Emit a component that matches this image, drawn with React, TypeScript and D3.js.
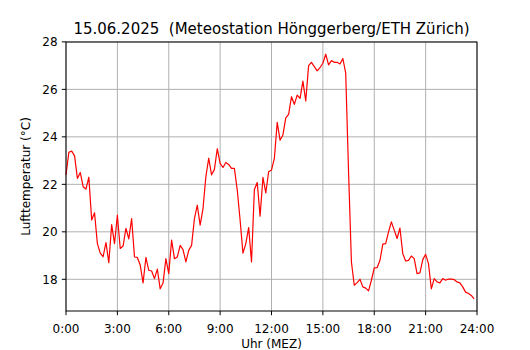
import * as d3 from "d3";

// Lufttemperatur, 10-Minuten-Werte ab 0:00
const temps = [
  22.4, 23.35, 23.4, 23.2, 22.25, 22.5, 21.9, 21.8, 22.3, 20.5,
  20.8, 19.5, 19.1, 18.95, 19.55, 18.7, 20.3, 19.5, 20.7, 19.3,
  19.4, 20.15, 19.7, 20.56, 18.94, 18.92, 18.6, 17.85, 18.92, 18.38,
  18.35, 18.03, 18.43, 17.6, 17.84, 18.87, 18.24, 19.65, 18.87, 18.94,
  19.43, 19.25, 18.73, 19.22, 19.43, 20.56, 21.12, 20.28, 20.98, 22.32,
  23.1, 22.4, 22.63, 23.5, 22.88, 22.71, 22.92, 22.84, 22.67, 22.67,
  21.76, 20.5, 19.1, 19.5, 20.18, 18.73, 21.78, 22.08, 20.66, 22.29,
  21.64, 22.53, 22.6, 23.09, 24.61, 23.86, 24.08, 24.8, 24.95, 25.69,
  25.37, 25.76, 25.62, 26.35, 25.51, 27.0, 27.14, 26.96, 26.78, 26.92,
  27.1, 27.48, 27.03, 27.21, 27.14, 27.14, 27.07, 27.3, 26.68, 22.53,
  18.73, 17.75, 17.86, 18.0, 17.68, 17.63, 17.51, 17.96, 18.48, 18.49,
  18.8, 19.48, 19.5, 20.0, 20.42, 20.07, 19.72, 20.16, 19.08, 18.77,
  18.8, 18.98, 18.87, 18.24, 18.27, 18.83, 19.05, 18.66, 17.6, 18.03,
  17.89, 17.85, 18.03, 17.96, 18.01, 18.01, 17.99, 17.89, 17.85, 17.68,
  17.46, 17.4, 17.32, 17.18,
];
const stepMinutes = 10;

const xTicks = [0, 3, 6, 9, 12, 15, 18, 21, 24];
const xTickLabels = ["0:00", "3:00", "6:00", "9:00", "12:00", "15:00", "18:00", "21:00", "24:00"];
const yTicks = [18, 20, 22, 24, 26, 28];

const title = "15.06.2025  (Meteostation Hönggerberg/ETH Zürich)";

const width = 530;
const height = 350;
const margin = { top: 42, right: 53, bottom: 39, left: 66 };
const font = "DejaVu Sans, sans-serif";

export default function App() {
  const innerW = width - margin.left - margin.right;
  const innerH = height - margin.top - margin.bottom;

  const [tMin, tMax] = d3.extent(temps) as [number, number];
  const pad = (tMax - tMin) * 0.05;

  const x = d3.scaleLinear().domain([0, 24]).range([0, innerW]);
  const y = d3.scaleLinear().domain([tMin - pad, tMax + pad]).range([innerH, 0]);

  const line = d3
    .line<number>()
    .x((_, i) => x((i * stepMinutes) / 60))
    .y((d) => y(d));

  return (
    <svg
      width={width}
      height={height}
      style={{ position: "absolute", left: 0, top: 0, background: "#fff" }}
      fontFamily={font}
    >
      <text
        x={margin.left + innerW / 2}
        y={34}
        textAnchor="middle"
        fontSize={15}
        style={{ whiteSpace: "pre" }}
      >
        {title}
      </text>
      <g transform={`translate(${margin.left},${margin.top})`}>
        {xTicks.map((t) => (
          <line key={"gx" + t} x1={x(t)} x2={x(t)} y1={0} y2={innerH} stroke="#b0b0b0" strokeWidth={1} />
        ))}
        {yTicks.map((t) => (
          <line key={"gy" + t} x1={0} x2={innerW} y1={y(t)} y2={y(t)} stroke="#b0b0b0" strokeWidth={1} />
        ))}
        <path d={line(temps) ?? ""} fill="none" stroke="red" strokeWidth={1.2} strokeLinejoin="round" />
        <rect x={0} y={0} width={innerW} height={innerH} fill="none" stroke="#000" strokeWidth={1} />
        {xTicks.map((t, i) => (
          <g key={"tx" + t} transform={`translate(${x(t)},${innerH})`}>
            <line y1={0} y2={4.2} stroke="#000" strokeWidth={1} />
            <text y={21.5} textAnchor="middle" fontSize={12}>
              {xTickLabels[i]}
            </text>
          </g>
        ))}
        {yTicks.map((t) => (
          <g key={"ty" + t} transform={`translate(0,${y(t)})`}>
            <line x1={-4.2} x2={0} stroke="#000" strokeWidth={1} />
            <text x={-8.4} dy="0.36em" textAnchor="end" fontSize={12}>
              {t}
            </text>
          </g>
        ))}
      </g>
      <text x={margin.left + innerW / 2} y={348} textAnchor="middle" fontSize={12}>
        Uhr (MEZ)
      </text>
      <text
        transform={`translate(30,${margin.top + innerH / 2}) rotate(-90)`}
        textAnchor="middle"
        fontSize={12}
      >
        Lufttemperatur (°C)
      </text>
    </svg>
  );
}
